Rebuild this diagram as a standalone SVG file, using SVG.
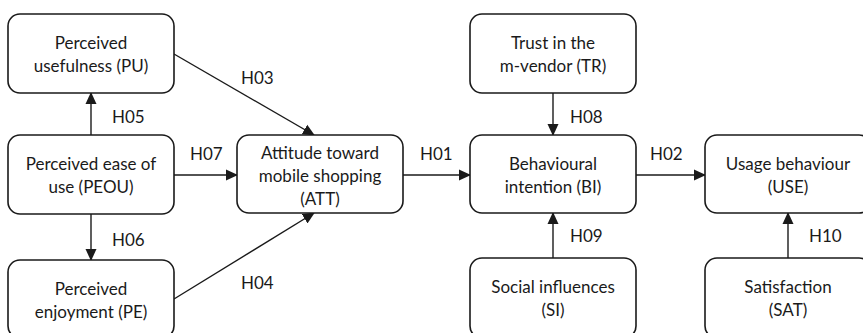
<svg xmlns="http://www.w3.org/2000/svg" width="863" height="333" viewBox="0 0 863 333">
<style>
.box{fill:#fff;stroke:#1a1a1a;stroke-width:1.6}
.t{font-family:Lato,"Open Sans",sans-serif;font-size:17px;fill:#1a1a1a;text-anchor:middle}
.l{font-family:Lato,"Open Sans",sans-serif;font-size:17px;fill:#1a1a1a}
.c{stroke:#1a1a1a;stroke-width:1.4;fill:none;marker-end:url(#ah)}
</style>
<defs>
<marker id="ah" markerWidth="12" markerHeight="12" refX="11" refY="6" orient="auto" markerUnits="userSpaceOnUse">
<path d="M0,0.5 L12,6 L0,11.5 Z" fill="#1a1a1a"/>
</marker>
</defs>
<rect width="863" height="333" fill="#fff"/>
<g id="connectors">
<line class="c" x1="91" y1="135" x2="91" y2="93"/>
<line class="c" x1="91" y1="214" x2="91" y2="260"/>
<line class="c" x1="174" y1="175" x2="237" y2="175"/>
<line class="c" x1="174" y1="54" x2="314" y2="135"/>
<line class="c" x1="174" y1="299" x2="314" y2="213"/>
<line class="c" x1="403" y1="175" x2="470" y2="175"/>
<line class="c" x1="553" y1="93" x2="553" y2="135"/>
<line class="c" x1="553" y1="258" x2="553" y2="213"/>
<line class="c" x1="636" y1="175" x2="705" y2="175"/>
<line class="c" x1="788" y1="258" x2="788" y2="213"/>
<text class="l" x="112" y="123">H05</text>
<text class="l" x="112" y="246">H06</text>
<text class="l" x="190" y="160">H07</text>
<text class="l" x="241" y="84">H03</text>
<text class="l" x="241" y="289">H04</text>
<text class="l" x="420" y="160">H01</text>
<text class="l" x="570" y="123">H08</text>
<text class="l" x="570" y="242">H09</text>
<text class="l" x="650" y="160">H02</text>
<text class="l" x="809" y="242">H10</text>
</g>
<g id="PU">
<rect class="box" x="8" y="14" width="166" height="79" rx="12"/>
<text class="t" x="91" y="49">Perceived</text>
<text class="t" x="91" y="72">usefulness (PU)</text>
</g>
<g id="PEOU">
<rect class="box" x="8" y="135" width="166" height="79" rx="12"/>
<text class="t" x="91" y="170">Perceived ease of</text>
<text class="t" x="91" y="193">use (PEOU)</text>
</g>
<g id="PE">
<rect class="box" x="8" y="260" width="166" height="78" rx="12"/>
<text class="t" x="91" y="295">Perceived</text>
<text class="t" x="91" y="318">enjoyment (PE)</text>
</g>
<g id="ATT">
<rect class="box" x="237" y="135" width="166" height="78" rx="12"/>
<text class="t" x="320" y="159">Attitude toward</text>
<text class="t" x="320" y="182">mobile shopping</text>
<text class="t" x="320" y="205">(ATT)</text>
</g>
<g id="TR">
<rect class="box" x="470" y="14" width="166" height="79" rx="12"/>
<text class="t" x="553" y="49">Trust in the</text>
<text class="t" x="553" y="72">m-vendor (TR)</text>
</g>
<g id="BI">
<rect class="box" x="470" y="135" width="166" height="78" rx="12"/>
<text class="t" x="553" y="170">Behavioural</text>
<text class="t" x="553" y="193">intention (BI)</text>
</g>
<g id="SI">
<rect class="box" x="470" y="258" width="166" height="80" rx="12"/>
<text class="t" x="553" y="293">Social influences</text>
<text class="t" x="553" y="316">(SI)</text>
</g>
<g id="USE">
<rect class="box" x="705" y="135" width="166" height="78" rx="12"/>
<text class="t" x="788" y="170">Usage behaviour</text>
<text class="t" x="788" y="193">(USE)</text>
</g>
<g id="SAT">
<rect class="box" x="705" y="258" width="166" height="80" rx="12"/>
<text class="t" x="788" y="293">Satisfaction</text>
<text class="t" x="788" y="316">(SAT)</text>
</g>
</svg>
